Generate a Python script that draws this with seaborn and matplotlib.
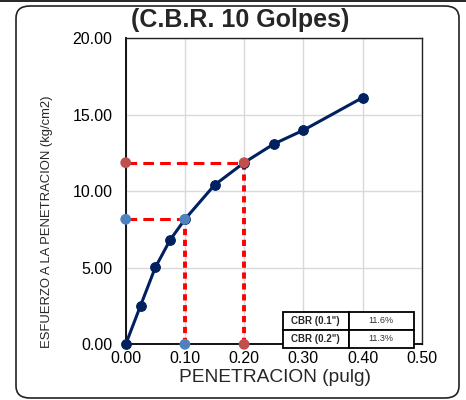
import matplotlib
matplotlib.use("Agg")
import matplotlib.pyplot as plt
import seaborn as sns
import pandas as pd
from matplotlib.patches import FancyBboxPatch
from matplotlib.lines import Line2D

# ---- data ----
penetracion = [0.0, 0.025, 0.05, 0.075, 0.10, 0.15, 0.20, 0.25, 0.30, 0.40]
esfuerzo = [0.0, 2.52, 5.02, 6.82, 8.17, 10.41, 11.87, 13.09, 13.99, 16.12]
cbr_pen = [0.1, 0.2]
cbr_esf = [8.17, 11.87]
cbr_labels = ['CBR (0.1")', 'CBR (0.2")']
cbr_values = ['11.6%', '11.3%']
x_ticks = [0.0, 0.1, 0.2, 0.3, 0.4, 0.5]
y_ticks = [0.0, 5.0, 10.0, 15.0, 20.0]
title = "(C.B.R. 10 Golpes)"
xlabel = "PENETRACION (pulg)"
ylabel = "ESFUERZO A LA PENETRACION (kg/cm2)"

sns.set_theme(style="white")
plt.rcParams['font.family'] = ['Liberation Sans', 'DejaVu Sans']

fig = plt.figure(figsize=(4.66, 4.0), dpi=100)
ax = fig.add_axes([125.7 / 466, 1 - 344.3 / 400, 296 / 466, 306 / 400])

# outer rounded frame
fig.add_artist(FancyBboxPatch((16 / 466, 2 / 400), 443 / 466, 392 / 400,
                              boxstyle="round,pad=0,rounding_size=0.03",
                              transform=fig.transFigure, fill=False,
                              edgecolor="#222222", linewidth=1.2))
fig.add_artist(Line2D([0, 1], [0.998, 0.998], transform=fig.transFigure,
                      color="black", linewidth=1.2))

ax.set_xlim(0, 0.5)
ax.set_ylim(0, 20)
ax.set_xticks(x_ticks)
ax.set_yticks(y_ticks)
ax.set_xticklabels([f"{v:.2f}" for v in x_ticks], fontsize=11.5)
ax.set_yticklabels([f"{v:.2f}" for v in y_ticks], fontsize=11.5)
ax.grid(True, color="#d9d9d9", linewidth=1.0)
ax.set_axisbelow(True)
for s in ax.spines.values():
    s.set_color("#222222")
    s.set_linewidth(1.0)
ax.spines['left'].set_color("black")
ax.spines['bottom'].set_color("black")
ax.spines['left'].set_linewidth(1.3)
ax.spines['bottom'].set_linewidth(1.3)
ax.tick_params(axis='y', length=0, pad=9.5, colors="black")
ax.tick_params(axis='x', length=0, pad=5, colors="black")

# reference dashed lines
cbr_colors = ["#4F81BD", "#C0504D"]
for xp, yp in zip(cbr_pen, cbr_esf):
    ax.plot([0, xp], [yp, yp], color="red", linewidth=2.2,
            dashes=(3.5, 2), zorder=3, clip_on=False)
    ax.plot([xp, xp], [0, yp], color="red", linewidth=2.8,
            dashes=(1.6, 1.2), zorder=3, clip_on=False)

# main curve
df = pd.DataFrame({"x": penetracion, "y": esfuerzo})
sns.lineplot(data=df, x="x", y="y", ax=ax, color="#002060", linewidth=2.2,
             marker="o", markersize=7, markeredgecolor="#002060",
             zorder=4, clip_on=False)

# CBR reference markers
pts_x, pts_y, pts_c = [], [], []
for xp, yp, c in zip(cbr_pen, cbr_esf, cbr_colors):
    pts_x += [xp, 0, xp]
    pts_y += [yp, yp, 0]
    pts_c += [c, c, c]
pdf = pd.DataFrame({"x": pts_x, "y": pts_y, "c": pts_c})
for c in cbr_colors:
    sub = pdf[pdf["c"] == c]
    sns.scatterplot(data=sub, x="x", y="y", ax=ax, color=c, s=60,
                    edgecolor="none", zorder=5, clip_on=False)

ax.set_xlabel(xlabel, fontsize=13.8)
ax.xaxis.set_label_coords((275 - 125.7) / 296, (344.3 - 377) / 306)
ax.xaxis.label.set_verticalalignment("center")
ax.set_ylabel(ylabel, fontsize=9.4)
ax.yaxis.set_label_coords((47 - 125.7) / 296, (344.3 - 222) / 306)
ax.yaxis.label.set_verticalalignment("center")
ax.set_title(title, fontsize=18, fontweight="bold", pad=0,
             x=(240 - 125.7) / 296, y=(344.3 - 20) / 306, va="center")

# CBR table
x0 = (283 - 125.7) / 296
x1 = (414 - 125.7) / 296
y0 = (344.3 - 347.7) / 306
y1 = (344.3 - 311.7) / 306
cells = [[l, v] for l, v in zip(cbr_labels, cbr_values)]
tbl = ax.table(cellText=cells, bbox=[x0, y0, x1 - x0, y1 - y0],
               colWidths=[0.5, 0.5], cellLoc="center", zorder=6)
tbl.auto_set_font_size(False)
for (r, c), cell in tbl.get_celld().items():
    cell.set_edgecolor("black")
    cell.set_linewidth(1.3)
    cell.set_facecolor("white")
    if c == 0:
        cell.get_text().set_fontweight("bold")
        cell.get_text().set_fontsize(7)
    else:
        cell.get_text().set_fontsize(6.5)
        cell.get_text().set_color("#333333")

fig.savefig("out.png", dpi=100)
